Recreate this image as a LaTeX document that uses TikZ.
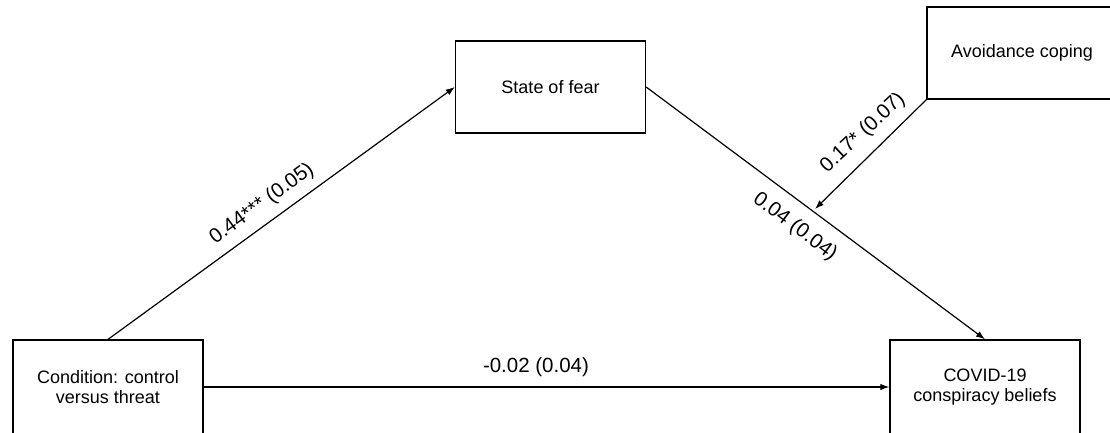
\documentclass[tikz,border=0pt]{standalone}
\usepackage{fontspec}
\setmainfont{Liberation Sans}
\usetikzlibrary{arrows.meta}
\begin{document}
\begin{tikzpicture}[x=1pt,y=-1pt,
  box/.style={draw, line width=1.3pt, minimum width=190pt, minimum height=92pt,
    inner sep=0pt, align=center, font=\fontsize{18}{20.5}\selectfont},
  conn/.style={line width=1.2pt, -{Latex[length=9pt,width=6.5pt]}},
  lab/.style={font=\fontsize{20.5}{24}\selectfont, inner sep=0pt}]
\useasboundingbox (0,0) rectangle (1110,432);
\node[box, minimum height=94pt] (cond) at (108,387) {Condition: control\\versus threat};
\node[box, minimum height=94pt] (covid) at (985,387) {COVID-19\\conspiracy beliefs};
\node[box] (fear) at (550.5,87) {State of fear};
\node[box] (avoid) at (1022,53) {Avoidance coping};
\coordinate (mod) at (815,209);
\draw[conn] (cond.north) -- (fear.west);
\draw[conn] (fear.east) -- (covid.north);
\draw[conn] (cond.east) -- (covid.west);
\draw[conn] (avoid.south west) -- (mod);
\node[lab, rotate=36] (l1) at (262,204) {0.44*** (0.05)};
\node[lab, rotate=-37] (l2) at (795,227) {0.04 (0.04)};
\node[lab, rotate=43] (l3) at (863,133) {0.17* (0.07)};
\node[lab] (l4) at (536,367) {-0.02 (0.04)};
\end{tikzpicture}
\end{document}
